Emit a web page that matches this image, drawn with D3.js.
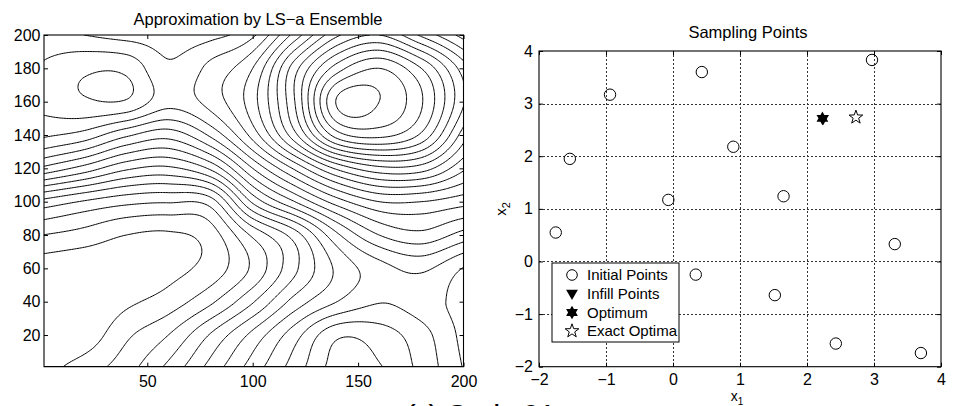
<!DOCTYPE html>
<html><head><meta charset="utf-8">
<script src="https://cdn.jsdelivr.net/npm/d3@7"></script>
<style>
body{margin:0;background:#fff;}
svg text{font-family:"Liberation Sans",Arial,Helvetica,sans-serif;fill:#000;}
</style></head>
<body><svg id="chart" width="954" height="406"></svg>
<script>
// ---------------- Left panel data: surrogate values on a 20-unit grid
const gridX = [0,20,40,60,80,100,120,140,160,180,200];
const gridY = [200,180,160,140,120,100,80,60,40,20,0];
const fieldRows = [
  [14.6, 15.0, 15.4, 15.5, 15.3, 14.2, 10.6, 7.2, 6.0, 8.2, 10.4],
  [13.9, 13.2, 13.25,14.85,13.7, 12.0, 7.4, 3.5, 2.0, 4.0, 7.5],
  [13.8, 13.15,13.1, 14.6, 13.6, 11.4, 7.0, 0.9, 1.0, 2.9, 6.9],
  [14.8, 15.4, 16.8, 17.6, 15.8, 12.6, 8.3, 3.5, 2.7, 4.2, 8.5],
  [18.2, 19.4, 20.8, 21.2, 19.8, 16.0, 12.8, 9.8, 8.3, 8.5, 10.8],
  [23.3, 24.1, 24.7, 24.9, 24.5, 19.8, 17.0, 14.5, 13.0, 13.0, 13.6],
  [26.0, 26.4, 27.0, 27.15,26.5, 23.8, 21.5, 18.2, 16.0, 15.3, 16.4],
  [27.5, 27.7, 27.6, 27.3, 26.6, 24.8, 22.2, 19.8, 18.4, 17.8, 19.05],
  [27.8, 27.9, 27.2, 26.55,25.2, 23.1, 20.6, 19.0, 18.05,18.5, 19.4],
  [27.8, 27.6, 26.2, 25.0, 22.9, 20.7, 18.4, 16.2, 16.5, 17.6, 19.3],
  [27.4, 26.5, 25.4, 23.7, 21.6, 19.5, 17.5, 15.6, 15.9, 17.3, 19.05]
];
const contourLevels = d3.range(1, 28);
const leftXTicks = [50,100,150,200];
const leftYTicks = [20,40,60,80,100,120,140,160,180,200];
const leftTitle = "Approximation by LS\u2212a Ensemble";

// ---------------- Right panel data
const initialX1 = [-1.54,-0.94,0.43,0.90,2.97,-0.07,1.65,-1.75,3.31,0.34,1.52,2.43,3.70];
const initialX2 = [1.95,3.17,3.60,2.18,3.83,1.17,1.24,0.55,0.33,-0.25,-0.64,-1.56,-1.74];
const infillX1 = [2.24], infillX2 = [2.70];
const optimumX1 = [2.23], optimumX2 = [2.72];
const exactX1 = [2.73], exactX2 = [2.74];
const rightTicks = [-2,-1,0,1,2,3,4];
const legendLabels = ["Initial Points","Infill Points","Optimum","Exact Optima"];
const rightTitle = "Sampling Points";
const caption = "(c) Code 01";

const svg = d3.select("#chart");
const FS = 16;

// ---------- symbol paths
function starPath(n, R, r){
  const p = d3.path();
  for(let k=0;k<2*n;k++){
    const a = -Math.PI/2 + k*Math.PI/n;
    const rr = k%2===0 ? R : r;
    const x = rr*Math.cos(a), y = rr*Math.sin(a);
    if(k===0) p.moveTo(x,y); else p.lineTo(x,y);
  }
  p.closePath(); return p.toString();
}
function triDown(R){
  const p = d3.path();
  p.moveTo(-R*0.95,-R*0.7); p.lineTo(R*0.95,-R*0.7); p.lineTo(0,R*0.95); p.closePath();
  return p.toString();
}
const hexagram = starPath(6, 6.8, 6.8/Math.sqrt(3));
const pentagram = starPath(5, 7.2, 7.2*0.40);
const triangle = triDown(6.2);

// ================= LEFT PANEL =================
const L = {x0:44, x1:463.5, y0:35, y1:366.7};
const xL = d3.scaleLinear().domain([1,200]).range([L.x0,L.x1]);
const yL = d3.scaleLinear().domain([1,200]).range([L.y1,L.y0]);

const G = fieldRows.slice().reverse();      // rows ascending in y
const gyAsc = gridY.slice().reverse();
const nx = gridX.length, ny = gyAsc.length;
function node(i,j){
  if(i<0) return 2*node(0,j)-node(1,j);
  if(i>nx-1) return 2*node(nx-1,j)-node(nx-2,j);
  if(j<0) return 2*node(i,0)-node(i,1);
  if(j>ny-1) return 2*node(i,ny-1)-node(i,ny-2);
  return G[j][i];
}
function cr(p0,p1,p2,p3,t){
  return 0.5*((2*p1)+(-p0+p2)*t+(2*p0-5*p1+4*p2-p3)*t*t+(-p0+3*p1-3*p2+p3)*t*t*t);
}
function sample(x,y){
  const fx=(x-gridX[0])/(gridX[1]-gridX[0]);
  const fy=(y-gyAsc[0])/(gyAsc[1]-gyAsc[0]);
  const i=Math.max(0,Math.min(Math.floor(fx),nx-2)), j=Math.max(0,Math.min(Math.floor(fy),ny-2));
  const tx=fx-i, ty=fy-j;
  const c=[];
  for(let m=-1;m<=2;m++) c.push(cr(node(i-1,j+m),node(i,j+m),node(i+1,j+m),node(i+2,j+m),tx));
  return cr(c[0],c[1],c[2],c[3],ty);
}
const N = 260, step = 199/(N-1);
const values = new Float64Array(N*N);
for(let l=0;l<N;l++) for(let k=0;k<N;k++) values[k+l*N] = sample(1+k*step, 1+l*step);
const contours = d3.contours().size([N,N]).thresholds(contourLevels)(values);
const proj = d3.geoTransform({point(x,y){ this.stream.point(xL(1+(x-0.5)*step), yL(1+(y-0.5)*step)); }});
const gpath = d3.geoPath(proj);

svg.append("clipPath").attr("id","clipL").append("rect")
  .attr("x",L.x0).attr("y",L.y0).attr("width",L.x1-L.x0).attr("height",L.y1-L.y0);
svg.append("g").attr("clip-path","url(#clipL)")
  .selectAll("path").data(contours).join("path")
  .attr("d",gpath).attr("fill","none").attr("stroke","#000").attr("stroke-width",1);

function frameAxes(x, y, box, xt, yt, padX, padY){
  const tl = 4;
  const fmt = d3.format("~d");
  const gb = svg.append("g").attr("transform",`translate(0,${box.y1})`)
    .call(d3.axisBottom(x).tickValues(xt).tickFormat(fmt).tickSizeInner(-tl).tickSizeOuter(0).tickPadding(padX));
  const gt = svg.append("g").attr("transform",`translate(0,${box.y0})`)
    .call(d3.axisTop(x).tickValues(xt).tickSizeInner(-tl).tickSizeOuter(0).tickFormat(""));
  const gl = svg.append("g").attr("transform",`translate(${box.x0},0)`)
    .call(d3.axisLeft(y).tickValues(yt).tickFormat(fmt).tickSizeInner(-tl).tickSizeOuter(0).tickPadding(padY));
  const gr = svg.append("g").attr("transform",`translate(${box.x1},0)`)
    .call(d3.axisRight(y).tickValues(yt).tickSizeInner(-tl).tickSizeOuter(0).tickFormat(""));
  [gb,gt,gl,gr].forEach(g=>{
    g.select(".domain").remove();
    g.selectAll("line").attr("stroke","#000");
    g.selectAll("text").attr("font-size",FS).attr("font-family","Liberation Sans, Arial, sans-serif").attr("fill","#000");
  });
  svg.append("rect").attr("x",box.x0).attr("y",box.y0).attr("width",box.x1-box.x0).attr("height",box.y1-box.y0)
    .attr("fill","none").attr("stroke","#000").attr("stroke-width",1.1);
}
frameAxes(xL, yL, L, leftXTicks, leftYTicks, 9, 3.5);
svg.append("text").attr("x",258).attr("y",25).attr("text-anchor","middle").attr("font-size",16.5).text(leftTitle);

// ================= RIGHT PANEL =================
const R = {x0:539, x1:941, y0:51, y1:366.7};
const xR = d3.scaleLinear().domain([-2,4]).range([R.x0,R.x1]);
const yR = d3.scaleLinear().domain([-2,4]).range([R.y1,R.y0]);
const grid = svg.append("g").attr("stroke","#333").attr("stroke-width",1).attr("stroke-dasharray","2,2");
grid.selectAll("line.v").data(rightTicks.slice(1,-1)).join("line").attr("class","v")
  .attr("x1",d=>Math.round(xR(d))+0.5).attr("x2",d=>Math.round(xR(d))+0.5).attr("y1",R.y0).attr("y2",R.y1);
grid.selectAll("line.h").data(rightTicks.slice(1,-1)).join("line").attr("class","h")
  .attr("y1",d=>Math.round(yR(d))+0.5).attr("y2",d=>Math.round(yR(d))+0.5).attr("x1",R.x0).attr("x2",R.x1);
frameAxes(xR, yR, R, rightTicks, rightTicks, 7, 6);

const pts = initialX1.map((v,i)=>({x:v,y:initialX2[i]}));
svg.append("g").selectAll("circle").data(pts).join("circle")
  .attr("cx",d=>xR(d.x)).attr("cy",d=>yR(d.y)).attr("r",5.7)
  .attr("fill","none").attr("stroke","#000").attr("stroke-width",1);
svg.append("g").selectAll("path").data(infillX1.map((v,i)=>({x:v,y:infillX2[i]}))).join("path")
  .attr("d",triangle).attr("transform",d=>`translate(${xR(d.x)},${yR(d.y)})`).attr("fill","#000");
svg.append("g").selectAll("path").data(optimumX1.map((v,i)=>({x:v,y:optimumX2[i]}))).join("path")
  .attr("d",hexagram).attr("transform",d=>`translate(${xR(d.x)},${yR(d.y)})`).attr("fill","#000");
svg.append("g").selectAll("path").data(exactX1.map((v,i)=>({x:v,y:exactX2[i]}))).join("path")
  .attr("d",pentagram).attr("transform",d=>`translate(${xR(d.x)},${yR(d.y)})`)
  .attr("fill","none").attr("stroke","#000").attr("stroke-width",1);

// legend
const lg = svg.append("g");
lg.append("rect").attr("x",552).attr("y",263).attr("width",127).attr("height",79)
  .attr("fill","#fff").attr("stroke","#000").attr("stroke-width",1);
const rowsY = [275,294,312.5,331];
legendLabels.forEach((t,i)=>{
  const cx = 572, cy = rowsY[i];
  if(i===0) lg.append("circle").attr("cx",cx).attr("cy",cy).attr("r",5.3).attr("fill","none").attr("stroke","#000");
  if(i===1) lg.append("path").attr("d",triangle).attr("transform",`translate(${cx},${cy})`).attr("fill","#000");
  if(i===2) lg.append("path").attr("d",hexagram).attr("transform",`translate(${cx},${cy})`).attr("fill","#000");
  if(i===3) lg.append("path").attr("d",pentagram).attr("transform",`translate(${cx},${cy})`).attr("fill","none").attr("stroke","#000");
  lg.append("text").attr("x",587).attr("y",cy+5.3).attr("font-size",15).text(t);
});

svg.append("text").attr("x",748).attr("y",38).attr("text-anchor","middle").attr("font-size",16.5).text(rightTitle);
const xl = svg.append("text").attr("x",737).attr("y",401).attr("text-anchor","middle").attr("font-size",14);
xl.append("tspan").text("x");
xl.append("tspan").attr("font-size",10).attr("dy",4).text("1");
const yl = svg.append("text").attr("transform","translate(506,209) rotate(-90)").attr("text-anchor","middle").attr("font-size",15);
yl.append("tspan").text("x");
yl.append("tspan").attr("font-size",11).attr("dy",4).text("2");

// caption (mostly cut off at the bottom edge, as in the reference)
svg.append("text").attr("x",405).attr("y",427).attr("font-size",32)
  .attr("font-family","Liberation Serif, DejaVu Serif, serif").attr("textLength",151).text(caption);
</script>
</body></html>
